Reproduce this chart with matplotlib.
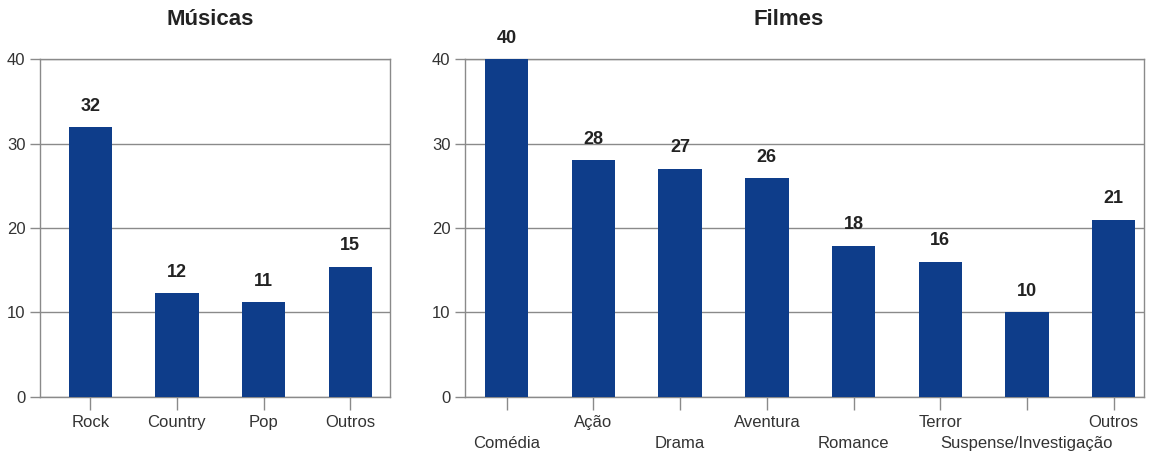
import numpy as np
import matplotlib.pyplot as plt

plt.rcParams['font.family'] = ['Liberation Sans', 'DejaVu Sans']

musicas_cat = ["Rock", "Country", "Pop", "Outros"]
musicas_val = [31.9, 12.3, 11.2, 15.4]
musicas_lbl = ["32", "12", "11", "15"]

filmes_cat = ["Comédia", "Ação", "Drama", "Aventura", "Romance", "Terror",
              "Suspense/Investigação", "Outros"]
filmes_val = [40, 28, 27, 25.9, 17.9, 16, 10, 21]
filmes_lbl = ["40", "28", "27", "26", "18", "16", "10", "21"]

bar_color = "#0e3d8a"
gray = "#8a8a8a"
text_color = "#333333"

fig = plt.figure(figsize=(11.56, 4.55), dpi=100)
ax1 = fig.add_axes([0.0346, 0.1275, 0.3028, 0.7428])
ax2 = fig.add_axes([0.4023, 0.1275, 0.5874, 0.7428])


def style(ax, vals, lbls):
    x = np.arange(len(vals))
    ax.bar(x, vals, width=0.5, color=bar_color, zorder=3)
    for xi, v, l in zip(x, vals, lbls):
        ax.annotate(l, (xi, v), xytext=(0, 9), textcoords="offset points",
                    ha="center", va="bottom", fontsize=13, fontweight="bold",
                    color="#222222", annotation_clip=False)
    ax.set_ylim(0, 40)
    ax.set_yticks([0, 10, 20, 30, 40])
    ax.tick_params(axis="y", labelsize=12, labelcolor=text_color, color=gray,
                   length=7, width=1)
    ax.tick_params(axis="x", which="both", color=gray, length=9, width=1,
                   labelsize=12, labelcolor=text_color, pad=4)
    ax.grid(axis="y", color=gray, linewidth=1, zorder=1)
    for s in ax.spines.values():
        s.set_color(gray)
        s.set_linewidth(1)
    return x


x1 = style(ax1, musicas_val, musicas_lbl)
ax1.set_xticks(x1, musicas_cat)
ax1.set_xlim(-0.58, 3.46)

x2 = style(ax2, filmes_val, filmes_lbl)
ax2.set_xticks(x2[1::2], filmes_cat[1::2])
ax2.set_xticks(x2[0::2], filmes_cat[0::2], minor=True)
ax2.tick_params(axis="x", which="minor", pad=19)
ax2.set_xlim(-0.48, 7.35)

fig.text(0.182, 0.958, "Músicas", ha="center", va="center", fontsize=16,
         fontweight="bold", color="#222222")
fig.text(0.682, 0.958, "Filmes", ha="center", va="center", fontsize=16,
         fontweight="bold", color="#222222")

fig.savefig("out.png", dpi=100)
